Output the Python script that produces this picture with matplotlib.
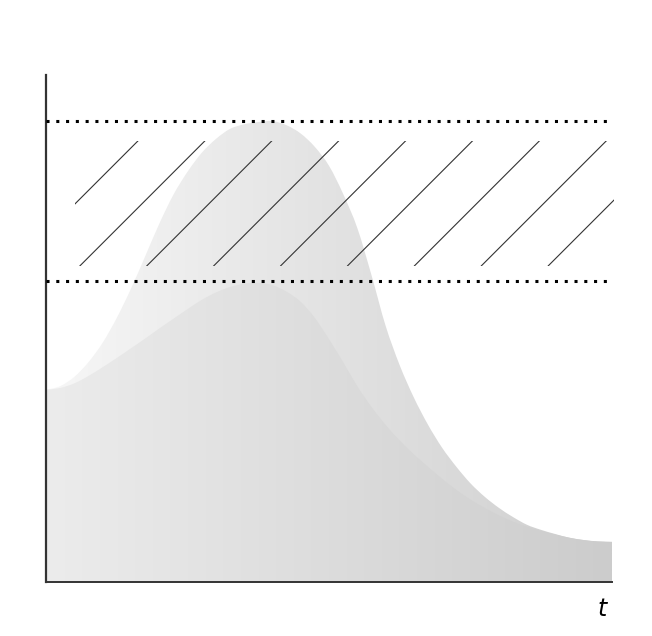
import numpy as np
import matplotlib
matplotlib.use('Agg')
import matplotlib.pyplot as plt
from matplotlib.patches import Rectangle, PathPatch
from matplotlib.path import Path

# time axis (arbitrary units) and the two concentration curves
t = np.arange(0, 10.01, 0.25)
high_curve = [0.417, 0.425, 0.445, 0.477, 0.519, 0.573, 0.636, 0.706, 0.777, 0.840,
              0.890, 0.931, 0.961, 0.983, 0.993, 0.998, 1.000, 0.991, 0.973, 0.944,
              0.903, 0.842, 0.768, 0.666, 0.556, 0.470, 0.400, 0.341, 0.291, 0.250,
              0.214, 0.185, 0.161, 0.141, 0.124, 0.113, 0.104, 0.096, 0.091, 0.088, 0.087]
low_curve = [0.417, 0.421, 0.431, 0.447, 0.466, 0.486, 0.507, 0.528, 0.550, 0.571,
             0.592, 0.612, 0.628, 0.640, 0.647, 0.649, 0.644, 0.630, 0.608, 0.573,
             0.527, 0.477, 0.425, 0.380, 0.341, 0.307, 0.277, 0.250, 0.224, 0.200,
             0.179, 0.161, 0.145, 0.131, 0.120, 0.111, 0.103, 0.096, 0.091, 0.088, 0.087]

# band limits (dotted lines) and hatched zone inside it
upper_level = 1.0
lower_level = 0.653
hatch_lo, hatch_hi = 0.686, 0.957
hatch_x0, hatch_x1 = 0.51, 10.04

fig = plt.figure(figsize=(6.52, 6.36), dpi=100)
ax = fig.add_axes([46/652, 54/636, 566/652, 507/636])
ax.set_xlim(0, 10)
ax.set_ylim(0, 1.1)


def smooth_area(x, y):
    # closed area under a Catmull-Rom curve through the points
    p = np.column_stack([x, y])
    verts = [(x[0], 0), tuple(p[0])]
    codes = [Path.MOVETO, Path.LINETO]
    n = len(p)
    for i in range(n - 1):
        p0 = p[max(i - 1, 0)]
        p3 = p[min(i + 2, n - 1)]
        c1 = p[i] + (p[i + 1] - p0) / 6
        c2 = p[i + 1] - (p3 - p[i]) / 6
        verts += [tuple(c1), tuple(c2), tuple(p[i + 1])]
        codes += [Path.CURVE4] * 3
    verts += [(x[-1], 0), (x[0], 0)]
    codes += [Path.LINETO, Path.CLOSEPOLY]
    return Path(verts, codes)


def gradient_fill(x, y, c_left, c_right):
    patch = PathPatch(smooth_area(x, y), transform=ax.transData,
                      facecolor='none', edgecolor='none')
    ramp = np.linspace(c_left, c_right, 256)
    img = np.dstack([ramp, ramp, ramp]).repeat(2, axis=0)
    im = ax.imshow(img, extent=[0, 10, 0, 1.1], aspect='auto', origin='lower',
                   interpolation='bilinear', zorder=1)
    im.set_clip_path(patch)


gradient_fill(t, high_curve, 247/255, 206/255)
gradient_fill(t, low_curve, 236/255, 204/255)

# dotted limits
for lvl in (upper_level, lower_level):
    ax.plot([0, 10], [lvl, lvl], color='black', lw=2.2, linestyle=(0, (1, 2.2)),
            dash_capstyle='butt', zorder=3)

# diagonal hatch lines in the band
clip = Rectangle((hatch_x0, hatch_lo), hatch_x1 - hatch_x0, hatch_hi - hatch_lo,
                 transform=ax.transData, facecolor='none', edgecolor='none')
slope = (56.6 / 1.0) / (507 / 1.1)
spacing = 1.182
run = (hatch_hi - hatch_lo) / slope
for k in range(-4, 12):
    xs = 0.6 + k * spacing
    ln, = ax.plot([xs, xs + run], [hatch_lo, hatch_hi], color='#333333', lw=0.8, zorder=4)
    ln.set_clip_path(clip)

for side in ('top', 'right'):
    ax.spines[side].set_visible(False)
ax.spines['left'].set_color('#333333')
ax.spines['bottom'].set_color('#333333')
ax.spines['left'].set_linewidth(1.6)
ax.spines['bottom'].set_linewidth(1.4)
ax.set_xticks([])
ax.set_yticks([])

ax.text(0.99, -0.03, 't', transform=ax.transAxes, ha='right', va='top',
        fontsize=17, style='italic')

plt.savefig('out.png', dpi=100)
